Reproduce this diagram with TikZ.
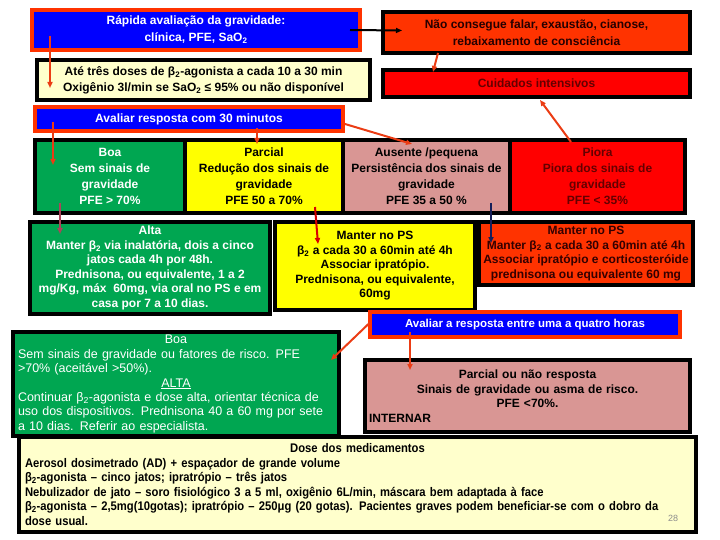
\documentclass[tikz,border=0pt]{standalone}
\usepackage{fontspec}
\setmainfont{Liberation Sans}
\newfontfamily\narrowfont[FakeStretch=0.9]{Liberation Sans}
\usetikzlibrary{arrows.meta, calc}

\definecolor{evalblue}{RGB}{0,0,255}
\definecolor{evalline}{RGB}{255,51,0}
\definecolor{alertfill}{RGB}{255,51,0}
\definecolor{icufill}{RGB}{255,0,0}
\definecolor{goodfill}{RGB}{0,166,81}
\definecolor{partfill}{RGB}{255,255,0}
\definecolor{poorfill}{RGB}{217,150,148}
\definecolor{notefill}{RGB}{255,255,204}
\definecolor{darkred}{RGB}{100,0,0}
\definecolor{arrred}{RGB}{235,60,20}
\definecolor{arrnavy}{RGB}{20,30,90}
\definecolor{arrrose}{RGB}{170,70,90}

\newcommand{\btwo}{β\textsubscript{2}}

\begin{document}
\begin{tikzpicture}[
  x=1pt, y=-1pt,
  box/.style={draw=black, line width=4pt, outer sep=0pt, inner sep=3pt,
              align=center, font=\bfseries\fontsize{12}{14.5}\selectfont},
  evalbox/.style={box, draw=evalline, fill=evalblue, text=white},
  rowbox/.style={box, minimum height=73, font=\bfseries\fontsize{12}{16}\selectfont},
  arr/.style={-{Triangle[length=6pt, width=5pt]}, line width=2pt, draw=arrred},
]
\useasboundingbox (0,0) rectangle (720,540);

% top: first assessment
\node[evalbox, minimum width=328, minimum height=40,
      font=\bfseries\fontsize{12}{17}\selectfont] (rapida) at (196,30)
  {Rápida avaliação da gravidade:\\clínica, PFE, SaO\textsubscript{2}};
\node[box, fill=alertfill, text=black!85!red, minimum width=307, minimum height=41,
      font=\bfseries\fontsize{12}{17}\selectfont]
  (alerta) at (536.5,32.5)
  {Não consegue falar, exaustão, cianose,\\rebaixamento de consciência};
\node[box, fill=notefill, minimum width=333, minimum height=40,
      font=\bfseries\fontsize{12}{16}\selectfont] (ate) at (203.5,80)
  {Até três doses de \btwo-agonista a cada 10 a 30 min\\
   Oxigênio 3l/min se SaO\textsubscript{2} ≤ 95\% ou não disponível};
\node[box, fill=icufill, text=darkred, minimum width=307, minimum height=27]
  (cuidados) at (536.5,83.5) {Cuidados intensivos};

% response after 30 minutes
\node[evalbox, minimum width=308, minimum height=24] (aval30) at (189,119)
  {Avaliar resposta com 30 minutos};
\node[rowbox, fill=goodfill, text=white, minimum width=150] (boa) at (110,176.5)
  {Boa\\Sem sinais de\\gravidade\\PFE > 70\%};
\node[rowbox, fill=partfill, minimum width=158] (parcial) at (264,176.5)
  {Parcial\\Redução dos sinais de\\gravidade\\PFE 50 a 70\%};
\node[rowbox, fill=poorfill, minimum width=167] (ausente) at (426.5,176.5)
  {Ausente /pequena\\Persistência dos sinais de\\gravidade\\PFE 35 a 50 \%};
\node[rowbox, fill=icufill, text=darkred, minimum width=175] (piora) at (597.5,176.5)
  {Piora\\Piora dos sinais de\\gravidade\\PFE < 35\%};

% conduct
\node[box, fill=goodfill, text=white, minimum width=240, minimum height=92]
  (alta) at (150,268)
  {Alta\\Manter \btwo\ via inalatória, dois a cinco\\jatos cada 4h por 48h.\\
   Prednisona, ou equivalente, 1 a 2\\mg/Kg, máx\ \ 60mg, via oral no PS e em\\
   casa por 7 a 10 dias.};
\node[box, fill=partfill, minimum width=200, minimum height=88] (mantera) at (375,266)
  {Manter no PS\\\btwo\ a cada 30 a 60min até 4h\\Associar ipratópio.\\
   Prednisona, ou equivalente,\\60mg};
\node[box, fill=alertfill, text=black!80!red, minimum width=214, minimum height=63]
  (manterb) at (586,253.5)
  {Manter no PS\\Manter \btwo\ a cada 30 a 60min até 4h\\
   Associar ipratópio e corticosteróide\\prednisona ou equivalente 60 mg};

% response after one to four hours
\node[evalbox, minimum width=310, minimum height=25,
      font=\bfseries\fontsize{11.5}{14}\selectfont] (aval14) at (525,324.5)
  {Avaliar a resposta entre uma a quatro horas};
\node[box, fill=goodfill, text=white, minimum width=326, minimum height=104,
      text width=316, align=left, font=\fontsize{12.5}{14.4}\selectfont]
  (boafinal) at (176,384)
  {\makebox[316pt]{Boa}\\
   Sem sinais de gravidade ou fatores de risco. PFE\\>70\% (aceitável >50\%).\\
   \makebox[316pt]{\underline{ALTA}}\\
   Continuar \btwo-agonista e dose alta, orientar técnica de\\
   uso dos dispositivos. Prednisona 40 a 60 mg por sete\\
   a 10 dias. Referir ao especialista.};
\node[box, fill=poorfill, minimum width=325, minimum height=72, text width=317,
      align=left] (internar) at (527.5,396)
  {\makebox[317pt]{Parcial ou não resposta}\\
   \makebox[317pt]{Sinais de gravidade ou asma de risco.}\\
   \makebox[317pt]{PFE <70\%.}\\
   INTERNAR};

% doses
\node[box, fill=notefill, minimum width=677, minimum height=95, text width=665,
      align=left, font=\narrowfont\bfseries\fontsize{12.5}{14.5}\selectfont]
  (dose) at (357.5,484.5)
  {\makebox[665pt]{Dose dos medicamentos}\\
   Aerosol dosimetrado (AD) + espaçador de grande volume\\
   \btwo-agonista – cinco jatos; ipratrópio – três jatos\\
   Nebulizador de jato – soro fisiológico 3 a 5 ml, oxigênio 6L/min, máscara bem adaptada à face\\
   \btwo-agonista – 2,5mg(10gotas); ipratrópio – 250μg (20 gotas). Pacientes graves podem beneficiar-se com o dobro da\\
   dose usual.};
\node[text=black!45, font=\fontsize{9}{10}\selectfont] (pagina) at (673,518) {28};

% arrows
\draw[arr] ($(rapida.south west)+(18,-14)$) -- ($(ate.west)+(13,8)$);
\draw[arr, draw=black] ($(rapida.east)+(-10,0)$) -- ($(alerta.west)+(19,-2)$);
\draw[arr] ($(alerta.south west)+(55,0)$) -- ($(cuidados.north west)+(50,2)$);
\draw[arr] ($(piora.north west)+(61,2)$) -- ($(cuidados.south west)+(157,3)$);
\draw[arr] ($(aval30.west)+(18,3)$) -- ($(boa.north west)+(18,25)$);
\draw[arr] ($(aval30.south west)+(222,-3)$) -- ($(parcial.north west)+(72,4)$);
\draw[arr] ($(aval30.east)+(2,5)$) -- ($(ausente.north west)+(69,4)$);
\draw[arr, draw=arrrose] ($(boa.south west)+(25,-10)$) -- ($(alta.north west)+(30,12)$);
\draw[arr, draw=red!85!black] ($(parcial.south west)+(130,-6)$) -- ($(mantera.north west)+(43,22)$);
\draw[arr, draw=arrnavy] ($(ausente.south west)+(148,-10)$) -- ($(manterb.north west)+(12,21)$);
\draw[arr] ($(aval14.west)+(0,-2)$) -- ($(boafinal.north east)+(-8,28)$);
\draw[arr] ($(aval14.south west)+(40,-5)$) -- ($(internar.north west)+(45,10)$);

\end{tikzpicture}
\end{document}
